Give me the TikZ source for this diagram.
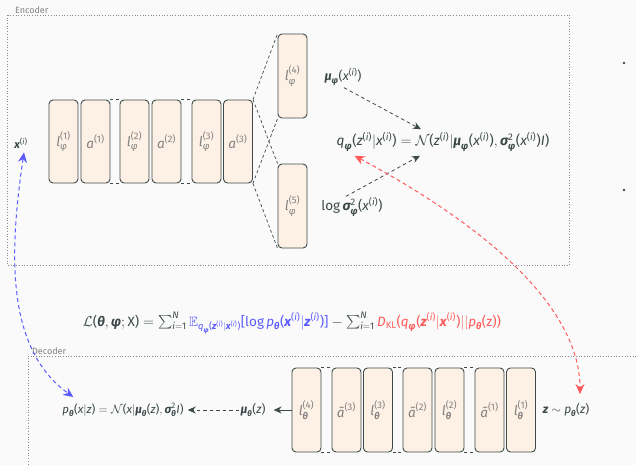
\documentclass[tikz,border=0pt]{standalone}
\usepackage{fontspec}
\setmainfont{Fira Sans}
\usepackage{amsmath,amssymb}
\usetikzlibrary{arrows.meta,calc}
\definecolor{bgc}{HTML}{FAFAFA}
\definecolor{ink}{HTML}{3C4848}
\definecolor{lbl}{HTML}{808080}
\definecolor{boxfill}{HTML}{FDF1E5}
\definecolor{boxline}{HTML}{3E4A4A}
\definecolor{frame}{HTML}{8A8A8A}
\definecolor{blu}{HTML}{5A5AFF}
\definecolor{rd}{HTML}{FF5A5A}
\newcommand\mi[1]{\text{\itshape #1}}
\newcommand\mb[1]{\text{\bfseries\itshape #1}}
\newcommand\mr[1]{\text{#1}}
\newcommand\Lp{\text{(}}
\newcommand\Rp{\text{)}}
\newcommand\sn[1]{^{\text{(#1)}}}
\newcommand\ssi{^{\text{(\textit{i})}}}
\begin{document}
\begin{tikzpicture}[x=1pt,y=-1pt,
  layer/.style={draw=boxline,fill=boxfill,line width=0.9pt,rounded corners=4pt,
    minimum width=29pt,minimum height=83pt,inner sep=0pt,text=lbl,font=\fontsize{13.5}{15}\selectfont},
  txt/.style={text=ink,inner sep=1pt,font=\fontsize{#1}{15}\selectfont},
  txt/.default=12,
  framebox/.style={draw=frame,dotted,line width=0.7pt},
  framelabel/.style={text=lbl,font=\fontsize{9}{10}\selectfont,inner sep=0pt},
  link/.style={draw=boxline,dashed,dash pattern=on 3pt off 2.5pt,line width=0.7pt},
  arr/.style={draw=ink,dash pattern=on 3.5pt off 3pt,line width=0.8pt,-{Stealth[length=8pt,width=7pt]}},
]
\useasboundingbox[fill=bgc] (0,0) rectangle (636,465);

% frames
\draw[framebox] (7,15) rectangle (569,265);
\node[framelabel,anchor=south west] (enclabel) at (15,14) {Encoder};
\draw[framebox] (636,356) -- (28,356) -- (28,465);
\node[framelabel,anchor=south west] (declabel) at (32,355) {Decoder};

% encoder layers
\node[layer] (l1) at (63.5,141.5) {$\mi{l}_{\mi{φ}}\sn{1}$};
\node[layer] (a1) at (95.5,141.5) {$\mi{a}\sn{1}$};
\node[layer] (l2) at (134.5,141.5) {$\mi{l}_{\mi{φ}}\sn{2}$};
\node[layer] (a2) at (166.5,141.5) {$\mi{a}\sn{2}$};
\node[layer] (l3) at (206.5,141.5) {$\mi{l}_{\mi{φ}}\sn{3}$};
\node[layer] (a3) at (238,141.5) {$\mi{a}\sn{3}$};
\node[layer,minimum height=84pt] (l4) at (292.5,76) {$\mi{l}_{\mi{φ}}\sn{4}$};
\node[layer,minimum height=84pt] (l5) at (292.5,206) {$\mi{l}_{\mi{φ}}\sn{5}$};

\draw[link] (a1.north east) -- (l2.north west);
\draw[link] (a1.south east) -- (l2.south west);
\draw[link] (a2.north east) -- (l3.north west);
\draw[link] (a2.south east) -- (l3.south west);
\draw[link] (a3.north east) -- (l4.north west);
\draw[link] (a3.north east) -- (l5.north west);
\draw[link] (a3.south east) -- (l4.south west);
\draw[link] (a3.south east) -- (l5.south west);

% encoder texts
\node[txt=11] (x) at (21,143) {$\mb{x}\ssi$};
\node[txt=12.5] (mu) at (343,77) {$\mb{μ}_{\mb{φ}}\Lp\mi{x}\ssi\Rp$};
\node[txt=13.5] (ls) at (352,207) {$\mr{log}\,\mb{σ}^{\mr{2}}_{\mb{φ}}\Lp\mi{x}\ssi\Rp$};
\node[txt=13.75] (q) at (443,142) {$\mi{q}_{\mb{φ}}\Lp\mi{z}\ssi|\mi{x}\ssi\Rp=\mathcal{N}\Lp\mi{z}\ssi|\mb{μ}_{\mb{φ}}\Lp\mi{x}\ssi\Rp,\mb{σ}^{\mr{2}}_{\mb{φ}}\Lp\mi{x}\ssi\Rp\mi{I}\Rp$};

\draw[arr] ($(mu.south)+(1,1)$) -- ($(q.north)+(-22,-2)$);
\draw[arr] ($(ls.north)+(-6,0)$) -- ($(q.south)+(-23,3)$);

% loss
\node[txt=13.5] (loss) at (292,323) {$\mathcal{L}\Lp\mb{θ},\mb{φ};\mr{X}\Rp=\textstyle\sum_{\mi{i}=\mr{1}}^{\mi{N}}{\color{blu}\mathbb{E}_{\mi{q}_{\mb{φ}}\Lp\mb{z}\ssi|\mb{x}\ssi\Rp}\text{[}\mr{log}\,\mi{p}_{\mb{θ}}\Lp\mb{x}\ssi|\mb{z}\ssi\Rp\text{]}}-\textstyle\sum_{\mi{i}=\mr{1}}^{\mi{N}}{\color{rd}\mi{D}_{\mr{KL}}\Lp\mi{q}_{\mb{φ}}\Lp\mb{z}\ssi|\mb{x}\ssi\Rp||\mi{p}_{\mb{θ}}\Lp\mr{z}\Rp\Rp}$};

% decoder layers
\node[layer,minimum height=84pt] (d4) at (306.5,410) {$\mi{l}_{\mb{θ}}\sn{4}$};
\node[layer,minimum height=84pt] (b3) at (346.5,410) {$\mi{ã}\sn{3}$};
\node[layer,minimum height=84pt] (d3) at (378,410) {$\mi{l}_{\mb{θ}}\sn{3}$};
\node[layer,minimum height=84pt] (b2) at (417.5,410) {$\mi{ã}\sn{2}$};
\node[layer,minimum height=84pt] (d2) at (449.5,410) {$\mi{l}_{\mb{θ}}\sn{2}$};
\node[layer,minimum height=84pt] (b1) at (489.5,410) {$\mi{ã}\sn{1}$};
\node[layer,minimum height=84pt] (d1) at (521,410) {$\mi{l}_{\mb{θ}}\sn{1}$};

\draw[link] (d4.north east) -- (b3.north west);
\draw[link] (d4.south east) -- (b3.south west);
\draw[link] (d3.north east) -- (b2.north west);
\draw[link] (d3.south east) -- (b2.south west);
\draw[link] (d2.north east) -- (b1.north west);
\draw[link] (d2.south east) -- (b1.south west);

\node[txt=12] (z) at (566,410) {$\mb{z}\sim\mi{p}_{\mb{θ}}\Lp\mi{z}\Rp$};
\node[txt=12] (mut) at (253,410) {$\mb{μ}_{\mb{θ}}\Lp\mi{z}\Rp$};
\node[txt=11.5] (p) at (123,410) {$\mi{p}_{\mb{θ}}\Lp\mi{x}|\mi{z}\Rp=\mathcal{N}\Lp\mi{x}|\mb{μ}_{\mb{θ}}\Lp\mi{z}\Rp,\mb{σ}^{\mr{2}}_{\mb{θ}}\mi{I}\Rp$};

\draw[ink,line width=0.8pt,-{Stealth[length=8pt,width=7pt]},shorten >=7pt] (d4.west) -- (mut.east);
\draw[arr,shorten >=3pt] (mut.west) -- (p.east);

% long arrows
\draw[blu,line width=1pt,dash pattern=on 4pt off 3pt,{Stealth[length=10pt,width=9pt]}-{Stealth[length=10pt,width=9pt]}]
  ($(x.south)+(3,3)$) .. controls (8,260) and (8,350) .. ($(p.north west)+(12,-5)$);
\draw[rd,line width=1pt,dash pattern=on 4pt off 3pt,{Stealth[length=10pt,width=9pt]}-{Stealth[length=10pt,width=9pt]}]
  ($(q.south west)+(19,3)$) .. controls (530,250) and (580,330) .. ($(z.north)+(14,-8)$);

% bullets
\fill[ink] (624,63) circle (1.4pt);
\fill[ink] (624,190) circle (1.4pt);
\end{tikzpicture}
\end{document}
